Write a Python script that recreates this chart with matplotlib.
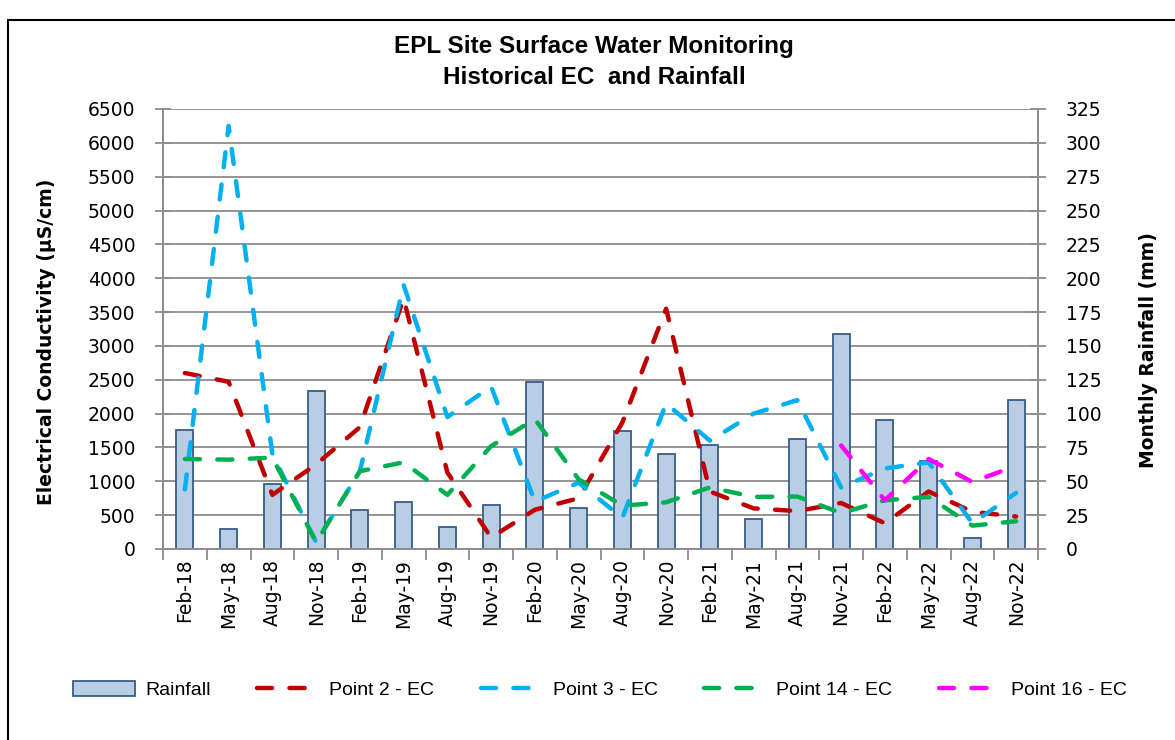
import numpy as np
import matplotlib
matplotlib.use("Agg")
import matplotlib.pyplot as plt
from matplotlib.patches import Rectangle, Patch
from matplotlib.lines import Line2D

months = ['Feb-18', 'May-18', 'Aug-18', 'Nov-18', 'Feb-19', 'May-19', 'Aug-19', 'Nov-19',
          'Feb-20', 'May-20', 'Aug-20', 'Nov-20', 'Feb-21', 'May-21', 'Aug-21', 'Nov-21',
          'Feb-22', 'May-22', 'Aug-22', 'Nov-22']

rainfall = [88, 15, 48, 117, 29, 35, 16.5, 32.5, 123, 30,
            87, 70, 77, 22, 81, 158.5, 95.5, 65, 8, 110]

point2 = [2600, 2470, 800, 1250, 1800, 3700, 1130, 170, 580, 750,
          1870, 3550, 850, 600, 560, 680, 380, 850, 550, 480]
point3 = [880, 6250, 1400, 100, 1150, 3900, 1950, 2400, 700, 980,
          460, 2150, 1600, 2000, 2200, 910, 1190, 1280, 380, 830]
point14 = [1330, 1320, 1350, 100, 1150, 1280, 800, 1520, 1920, 1030,
           640, 690, 910, 770, 775, 530, 720, 770, 345, 410]
point16 = [np.nan] * 15 + [1530, 720, 1330, 990, 1230]

W, H = 1175, 740
fig = plt.figure(figsize=(W / 100, H / 100), dpi=100)
fig.patch.set_facecolor('white')

# outer chart frame
fig.add_artist(Rectangle((8 / W, -0.05), 1.2, 1 - 20 / H + 0.05, transform=fig.transFigure,
                         fill=False, edgecolor='black', linewidth=1.5))

ax1 = fig.add_axes([163 / W, 1 - 549 / H, 875 / W, 440 / H])
ax2 = ax1.twinx()
ax1.set_zorder(ax2.get_zorder() + 1)
ax1.patch.set_visible(False)

x = np.arange(len(months))
grid_c = '#8c8c8c'

# rainfall bars on the secondary axis (with the gridlines behind)
ax2.bar(x, rainfall, width=0.39, color='#B9CDE5', edgecolor='#385D8A', linewidth=1.3, zorder=2)
ax2.set_ylim(0, 325)
ax2.set_yticks(np.arange(0, 326, 25))
ax2.set_axisbelow(True)
ax2.yaxis.grid(True, color=grid_c, linewidth=1.3)

dash = (0, (3.4, 3.9))
lw = 3.2
series = [(point2, '#C00000', 'Point 2 - EC'),
          (point3, '#00B0F0', 'Point 3 - EC'),
          (point14, '#00B050', 'Point 14 - EC'),
          (point16, '#FF00FF', 'Point 16 - EC')]
for vals, col, lab in series:
    ax1.plot(x, vals, color=col, linewidth=lw, linestyle=dash, dash_capstyle='round')

ax1.set_xlim(-0.5, len(months) - 0.5)
ax1.set_ylim(0, 6500)
ax1.set_yticks(np.arange(0, 6501, 500))
ax1.set_xticks(x)
ax1.set_xticklabels(months, rotation=90, fontsize=13.5, family='DejaVu Sans')
ax1.set_xticks(np.arange(-0.5, len(months), 1), minor=True)
ax1.tick_params(axis='x', which='major', length=0, pad=7)
ax1.tick_params(axis='x', which='minor', length=8, color=grid_c, width=1.3, direction='out')
ax1.tick_params(axis='y', labelsize=13.5, length=12, direction='inout', color=grid_c, width=1.3, pad=14)
ax2.tick_params(axis='y', labelsize=13.5, length=12, direction='inout', color=grid_c, width=1.3, pad=14)

for a in (ax1, ax2):
    a.spines['top'].set_visible(False)
    for s in ('left', 'right', 'bottom'):
        a.spines[s].set_color(grid_c)
        a.spines[s].set_linewidth(1.3)

fig.text(47 / W, 1 - 342 / H, 'Electrical Conductivity (µS/cm)', rotation=90,
         ha='center', va='center', fontsize=13.5, fontweight='bold')
fig.text(1148 / W, 1 - 350 / H, 'Monthly Rainfall (mm)', rotation=90,
         ha='center', va='center', fontsize=13.5, fontweight='bold')

fig.text(594 / W, 1 - 46 / H, 'EPL Site Surface Water Monitoring', ha='center', va='center',
         fontsize=17.5, fontweight='bold', family='Liberation Sans')
fig.text(594 / W, 1 - 78 / H, 'Historical EC  and Rainfall', ha='center', va='center',
         fontsize=17.5, fontweight='bold', family='Liberation Sans')

handles = [Patch(facecolor='#B9CDE5', edgecolor='#385D8A', linewidth=1.3, label='Rainfall')]
for vals, col, lab in series:
    handles.append(Line2D([], [], color=col, linewidth=lw, linestyle=dash,
                          dash_capstyle='round', label=lab))
fig.legend(handles=handles, loc='center', bbox_to_anchor=(600 / W, 1 - 690 / H), ncol=5,
           frameon=False, prop={'family': 'Liberation Sans', 'size': 14},
           handlelength=3.2, handleheight=0.8, columnspacing=2.4, handletextpad=0.5)

fig.savefig('out.png', dpi=100, facecolor='white')
